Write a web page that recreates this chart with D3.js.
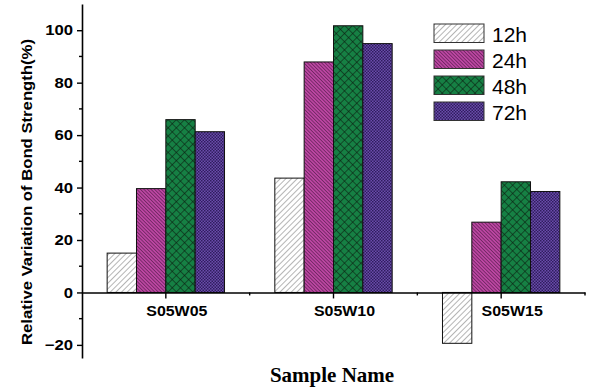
<!DOCTYPE html>
<html>
<head>
<meta charset="utf-8">
<script src="https://cdn.jsdelivr.net/npm/d3@7"></script>
<style>
  html, body { margin: 0; padding: 0; background: #fff; }
  svg { display: block; }
</style>
</head>
<body>
<svg id="chart" width="589" height="388"></svg>
<script>
// Sample groups and curing times
const samples = ["S05W05", "S05W10", "S05W15"];
const series = ["12h", "24h", "48h", "72h"];

// Relative variation of bond strength (%) per curing time, one value per sample
const v12h = [15, 43.6, -19.4];
const v24h = [39.6, 87.9, 26.8];
const v48h = [65.9, 101.7, 42.2];
const v72h = [61.3, 94.9, 38.5];

const yMajorTicks = [-20, 0, 20, 40, 60, 80, 100];
const yMinorTicks = [-10, 10, 30, 50, 70, 90];

const values = [v12h, v24h, v48h, v72h];

const svg = d3.select("#chart");
const defs = svg.append("defs");

// Widen glyphs slightly, keeping the anchor in place
function stretch(sel, k) {
  sel.each(function () {
    const len = this.getComputedTextLength();
    d3.select(this).attr("textLength", len * k).attr("lengthAdjust", "spacingAndGlyphs");
  });
}

// Fill patterns for each series
function hatch(id, size, bg, lineColor, lineWidth, angle, cross) {
  const p = defs.append("pattern")
    .attr("id", id)
    .attr("patternUnits", "userSpaceOnUse")
    .attr("width", size).attr("height", size)
    .attr("patternTransform", `rotate(${angle})`);
  p.append("rect").attr("width", size).attr("height", size).attr("fill", bg);
  p.append("line").attr("x1", 0).attr("y1", 0).attr("x2", 0).attr("y2", size)
    .attr("stroke", lineColor).attr("stroke-width", lineWidth);
  if (cross) {
    p.append("line").attr("x1", 0).attr("y1", 0).attr("x2", size).attr("y2", 0)
      .attr("stroke", lineColor).attr("stroke-width", lineWidth);
  }
}
hatch("p12", 4.0, "#ffffff", "#5a5a5a", 0.9, 45, false);
hatch("p24", 2.5, "#bc46a2", "#3d1236", 1, -45, false);
hatch("p48", 5.8, "#168044", "#0a1a0e", 1.1, 45, true);
{
  const p = defs.append("pattern")
    .attr("id", "p72")
    .attr("patternUnits", "userSpaceOnUse")
    .attr("width", 3).attr("height", 3);
  p.append("rect").attr("width", 3).attr("height", 3).attr("fill", "#6a4cab");
  p.append("rect").attr("width", 1.5).attr("height", 1.5).attr("fill", "#2f1d5e");
  p.append("rect").attr("x", 1.5).attr("y", 1.5).attr("width", 1.5).attr("height", 1.5).attr("fill", "#2f1d5e");
}
const fills = ["url(#p12)", "url(#p24)", "url(#p48)", "url(#p72)"];

// Scales
const x = d3.scaleBand().domain(samples).range([82, 585]).padding(0);
const y = d3.scaleLinear().domain([-25, 110]).range([358, 4]);
const bw = x.bandwidth();
const barW = bw * 0.175;

// Bars
series.forEach((s, si) => {
  svg.append("g").selectAll("rect")
    .data(samples.map((c, ci) => ({ c, v: values[si][ci] })))
    .join("rect")
    .attr("x", d => x(d.c) + bw / 2 - 2 * barW + si * barW)
    .attr("y", d => y(Math.max(0, d.v)))
    .attr("width", barW)
    .attr("height", d => Math.abs(y(d.v) - y(0)))
    .attr("fill", fills[si])
    .attr("stroke", "#111")
    .attr("stroke-width", 1);
});

// Y axis with major and minor ticks
const yAxis = svg.append("g")
  .attr("transform", "translate(82,0)")
  .call(d3.axisLeft(y).tickValues(yMajorTicks).tickSize(5).tickPadding(4).tickSizeOuter(0));
yAxis.select(".domain").attr("stroke", "#000").attr("stroke-width", 1.6);
yAxis.selectAll(".tick line").attr("stroke", "#000").attr("stroke-width", 1.4);
yAxis.selectAll(".tick text")
  .attr("font-family", "Liberation Sans, Arial, sans-serif")
  .attr("font-weight", "bold").attr("font-size", 14.5).attr("fill", "#000")
  .call(stretch, 1.15);
svg.append("g").selectAll("line").data(yMinorTicks).join("line")
  .attr("x1", 79).attr("x2", 82)
  .attr("y1", d => y(d)).attr("y2", d => y(d))
  .attr("stroke", "#000").attr("stroke-width", 1.4);

// X axis along zero
const xAxis = svg.append("g")
  .attr("transform", `translate(0,${y(0)})`)
  .call(d3.axisBottom(x).tickSize(6).tickPadding(7).tickSizeOuter(0));
xAxis.select(".domain").attr("stroke", "#000").attr("stroke-width", 1.6);
xAxis.selectAll(".tick line").attr("stroke", "#000").attr("stroke-width", 1.4);
xAxis.selectAll(".tick text")
  .attr("dx", 11)
  .attr("font-family", "Liberation Sans, Arial, sans-serif")
  .attr("font-weight", "bold").attr("font-size", 14.5).attr("fill", "#000")
  .call(stretch, 1.1);
// minor ticks at group boundaries
svg.append("g").selectAll("line")
  .data(samples.slice(1).map(c => x(c)).concat([585]))
  .join("line")
  .attr("x1", d => d).attr("x2", d => d)
  .attr("y1", y(0)).attr("y2", y(0) + 3)
  .attr("stroke", "#000").attr("stroke-width", 1.4);

// Axis titles
svg.append("text")
  .attr("transform", "translate(32,192) rotate(-90)")
  .attr("text-anchor", "middle")
  .attr("font-family", "Liberation Sans, Arial, sans-serif")
  .attr("font-weight", "bold").attr("font-size", 15)
  .attr("textLength", 306).attr("lengthAdjust", "spacingAndGlyphs")
  .text("Relative Variation of Bond Strength(%)");

svg.append("text")
  .attr("x", 332).attr("y", 382)
  .attr("text-anchor", "middle")
  .attr("font-family", "Liberation Serif, Times New Roman, serif")
  .attr("font-weight", "bold").attr("font-size", 21)
  .text("Sample Name");

// Legend
const legend = svg.append("g").attr("transform", "translate(434,24)");
series.forEach((s, i) => {
  const g = legend.append("g").attr("transform", `translate(0,${i * 26})`);
  g.append("rect").attr("width", 50).attr("height", 18.5)
    .attr("fill", fills[i]).attr("stroke", "#333").attr("stroke-width", 1);
  g.append("text").attr("x", 58).attr("y", 17.5)
    .attr("font-family", "Liberation Sans, Arial, sans-serif")
    .attr("font-size", 21).attr("fill", "#000")
    .text(s);
});
</script>
</body>
</html>
